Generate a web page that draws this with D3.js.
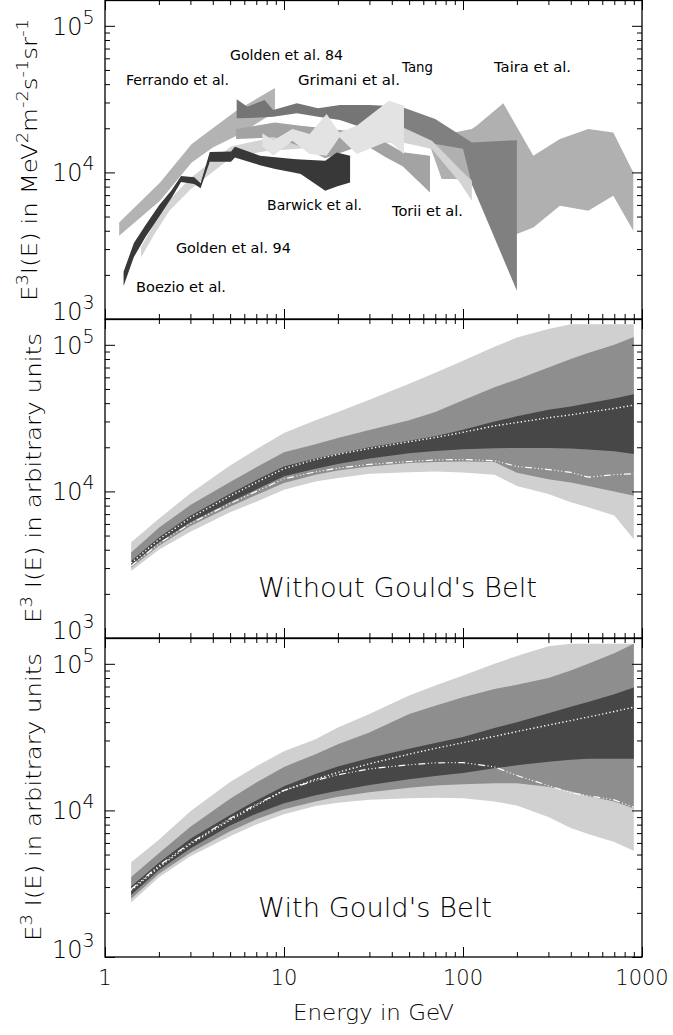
<!DOCTYPE html>
<html><head><meta charset="utf-8">
<script src="https://cdn.jsdelivr.net/npm/d3@7"></script>
<style>body{margin:0;background:#fff} svg{display:block} text{font-family:'DejaVu Sans',sans-serif;}</style>
</head><body><svg id="c" width="673" height="1035"></svg>
<script>
// ---------------- DATA ----------------
// Panel 1: measured electron spectra (E in GeV, band lo/hi of E^3 I(E))
const ferrandoE  = [1.2, 2.03, 3.05, 4.0, 5.44, 8.9];
const ferrandoLo = [3700, 6410, 11700, 14800, 17800, 25700];
const ferrandoHi = [4560, 8550, 15600, 20000, 26400, 37700];

const tairaE  = [65, 76, 112, 119, 168, 200, 247, 348, 501, 691, 894];
const tairaLo = [15500, 9000, 9000, 7000, 4700, 3800, 4213, 5925, 5477, 6934, 4000];
const tairaHi = [16000, 18000, 19780, 20840, 29580, 20400, 13000, 16900, 19780, 18750, 10000];

const tangE  = [38, 46, 70, 100, 112, 200];
const tangLo = [20000, 19500, 15600, 14500, 8300, 1560];
const tangHi = [28500, 27800, 23100, 17500, 16000, 16600];

const golden94E  = [1.59, 1.89, 2.29, 3.02, 4.08, 5.06, 8, 12, 20, 30, 46, 67, 83, 96, 112];
const golden94Lo = [2630, 3800, 5480, 7710, 10270, 12600, 14000, 14500, 15500, 16000, 16000, 14450, 10550, 8550, 6410];
const golden94Hi = [3100, 4500, 6500, 9200, 12300, 15000, 17000, 18000, 19000, 20000, 20300, 16460, 12660, 10500, 8780];

const toriiE  = [5.4, 8.9, 12.4, 17, 24, 28, 37, 46, 65.4];
const toriiLo = [16900, 17300, 15000, 12500, 14500, 15600, 12700, 11000, 7300];
const toriiHi = [19800, 21900, 20800, 20000, 19000, 18000, 16000, 13700, 13000];

const golden84E  = [5.44, 6.25, 7.79, 8.70, 11.8, 15.5, 20.5, 30.1, 38.6];
const golden84Lo = [23380, 23500, 23770, 23990, 25290, 23990, 22790, 19450, 20000];
const golden84Hi = [31540, 28100, 31200, 26660, 29610, 27360, 28840, 28840, 28400];

const grimaniE  = [7.57, 8.7, 11.14, 13.9, 17.3, 20.4, 25.5, 38.6, 46.8];
const grimaniLo = [15000, 13000, 16460, 13350, 13000, 17340, 13350, 16460, 13350];
const grimaniHi = [18500, 16500, 19780, 18280, 25040, 18750, 20840, 30860, 28530];

const boezioE  = [1.27, 1.45, 1.69, 2.01, 2.36, 2.66, 3.15, 3.42, 3.85, 5.06];
const boezioLo = [1680, 2650, 3650, 5000, 6750, 8600, 8330, 7800, 11800, 11840];
const boezioHi = [2100, 3300, 4400, 6000, 7600, 9450, 9250, 8450, 13800, 13900];

const barwickE  = [5.06, 5.32, 7.34, 8.94, 11.3, 12.4, 17.0, 19.7, 23.4];
const barwickLo = [11840, 12660, 11200, 10550, 10000, 9750, 7500, 8000, 8550];
const barwickHi = [13900, 14980, 13000, 12700, 12350, 12250, 12020, 13690, 13000];

const labelText = ["Golden et al. 84", "Ferrando et al.", "Grimani et al.", "Tang", "Taira et al.",
                   "Barwick et al.", "Torii et al.", "Golden et al. 94", "Boezio et al."];
const labelE = [4.99, 1.31, 11.97, 45.6, 149, 8.04, 40.1, 2.49, 1.49];
const labelV = [58440, 39470, 39470, 48410, 48410, 5540, 5042, 2819, 1529];

// Panels 2 and 3: model predictions on a common energy grid
const gridE = [1.4, 2, 3, 5, 7, 10, 15, 20, 30, 50, 70, 100, 150, 200, 300, 400, 500, 700, 900];

const noGB_lightHi = [4500, 6500, 9700, 15000, 19400, 25000, 30600, 34800, 42200, 54200, 64600, 78000, 97000, 112000, 128000, 138000, 138000, 138000, 138000];
const noGB_midHi   = [3830, 5640, 8070, 11600, 14600, 18500, 21000, 23100, 26200, 30600, 34800, 41800, 51400, 58000, 70000, 80000, 88000, 100000, 113000];
const noGB_darkHi  = [3350, 4850, 6820, 9640, 11950, 14800, 16800, 18100, 20000, 22200, 23800, 26300, 30000, 32500, 36000, 38000, 40000, 43000, 46000];
const noGB_darkLo  = [3150, 4480, 6170, 8470, 10300, 12700, 14300, 15400, 16800, 18200, 18900, 19400, 19700, 19800, 19800, 19600, 19300, 18800, 18000];
const noGB_midLo   = [3020, 4260, 5800, 7860, 9460, 11400, 13000, 13900, 14800, 15600, 15900, 16000, 15900, 13400, 12100, 11500, 10900, 10000, 9350];
const noGB_lightLo = [2870, 4000, 5300, 7200, 8500, 10270, 11690, 12320, 13180, 13530, 13650, 13450, 13000, 10900, 9600, 8430, 7800, 6840, 4720];
const noGB_dotted  = [3250, 4700, 6600, 9300, 11500, 14300, 16500, 17900, 19600, 21800, 23300, 25300, 28000, 29500, 31800, 33300, 34700, 36800, 38800];
const noGB_dashdot = [3100, 4400, 6040, 8260, 10000, 12200, 13600, 14400, 15300, 16000, 16400, 16500, 16200, 14800, 14100, 13500, 12500, 13000, 13200];

const gb_lightHi = [4430, 6300, 9870, 15600, 20000, 25300, 30600, 36800, 45400, 60700, 71000, 83200, 100000, 113000, 132000, 137000, 137000, 137000, 137000];
const gb_midHi   = [3515, 5100, 7750, 12000, 15500, 19800, 24200, 28300, 34000, 45400, 51800, 59100, 67400, 72000, 80000, 90000, 100000, 118000, 137000];
const gb_darkHi  = [3030, 4400, 6400, 9300, 11700, 14600, 17700, 19900, 22800, 26300, 28800, 31700, 36500, 40000, 46000, 51000, 55000, 62000, 69000];
const gb_darkLo  = [2650, 3900, 5500, 7900, 9500, 11200, 12700, 13600, 14900, 16300, 17200, 18000, 19400, 20300, 21500, 22200, 22500, 22500, 22500];
const gb_midLo   = [2500, 3700, 5150, 7200, 8700, 10200, 11500, 12400, 13300, 14300, 14800, 15100, 15300, 15300, 14500, 13500, 12500, 11500, 10300];
const gb_lightLo = [2350, 3500, 4860, 6670, 8020, 9400, 10700, 11300, 11800, 12100, 12200, 12100, 11500, 10800, 9000, 7600, 6900, 6100, 5300];
const gb_dotted  = [2850, 4100, 5900, 8600, 10800, 13700, 16300, 18200, 20800, 24200, 26500, 29000, 32000, 34500, 38200, 41000, 43300, 47300, 50600];
const gb_dashdot = [2900, 4200, 6000, 8800, 11000, 13700, 16000, 17500, 19200, 20500, 21100, 21200, 19800, 17300, 14800, 13200, 12600, 11800, 10500];

const panelNotes = ["Without Gould's Belt", "With Gould's Belt"];
const noteE = [7.16, 7.16];
const noteV = [1905, 1875];

const xTickLabels = ["1", "10", "100", "1000"];
const yTickValues = [1e3, 1e4, 1e5];
const yTickExps = ["3", "4", "5"];

// ---------------- LAYOUT ----------------
const W = 673, L = 105, R = 642, H = 319;
const tops = [0, 319, 638];
const svg = d3.select("#c");
const x = d3.scaleLog().domain([1, 1000]).range([L, R]);
const yScales = tops.map(t => d3.scaleLog().domain([1e3, 1.5e5]).range([t + H, t]));

const zip = (E, lo, hi) => E.map((e, i) => ({E: e, lo: lo[i], hi: hi[i]}));

const defs = svg.append("defs");
tops.forEach((t, i) => {
  defs.append("clipPath").attr("id", "clip" + i)
    .append("rect").attr("x", L).attr("y", t).attr("width", R - L).attr("height", H);
});

function areaFor(y) {
  return d3.area().x(d => x(d.E)).y0(d => y(d.lo)).y1(d => y(d.hi)).curve(d3.curveLinear);
}

// ---------- Panel 1 ----------
{
  const y = yScales[0];
  const g = svg.append("g").attr("clip-path", "url(#clip0)");
  const bands = [
    {d: zip(ferrandoE, ferrandoLo, ferrandoHi), c: "#b3b3b3"},
    {d: zip(tairaE, tairaLo, tairaHi), c: "#b0b0b0"},
    {d: zip(tangE, tangLo, tangHi), c: "#808080"},
    {d: zip(golden94E, golden94Lo, golden94Hi), c: "#d4d4d4"},
    {d: zip(toriiE, toriiLo, toriiHi), c: "#a3a3a3"},
    {d: zip(golden84E, golden84Lo, golden84Hi), c: "#757575"},
    {d: zip(grimaniE, grimaniLo, grimaniHi), c: "#e3e3e3"},
    {d: zip(boezioE, boezioLo, boezioHi), c: "#383838"},
    {d: zip(barwickE, barwickLo, barwickHi), c: "#383838"}
  ];
  const ar = areaFor(y);
  g.selectAll("path.band").data(bands).join("path")
    .attr("d", b => ar(b.d)).attr("fill", b => b.c).attr("stroke", "none");

  const labelWidths = [113, 103, 102, 31, 77, 95, 71, 115, 90];
  svg.append("g").selectAll("text").data(labelText).join("text")
    .attr("x", (t, i) => x(labelE[i])).attr("y", (t, i) => y(labelV[i]))
    .attr("textLength", (t, i) => labelWidths[i]).attr("lengthAdjust", "spacingAndGlyphs")
    .style("font-size", "14px").attr("fill", "#000").text(t => t);
}

// ---------- Panels 2 & 3 ----------
const modelSets = [
  {lh: noGB_lightHi, mh: noGB_midHi, dh: noGB_darkHi, dl: noGB_darkLo, ml: noGB_midLo, ll: noGB_lightLo, dot: noGB_dotted, dd: noGB_dashdot},
  {lh: gb_lightHi, mh: gb_midHi, dh: gb_darkHi, dl: gb_darkLo, ml: gb_midLo, ll: gb_lightLo, dot: gb_dotted, dd: gb_dashdot}
];
modelSets.forEach((m, k) => {
  const pi = k + 1, y = yScales[pi];
  const g = svg.append("g").attr("clip-path", `url(#clip${pi})`);
  const ar = areaFor(y);
  g.append("path").attr("d", ar(zip(gridE, m.ll, m.lh))).attr("fill", "#d0d0d0");
  g.append("path").attr("d", ar(zip(gridE, m.ml, m.mh))).attr("fill", "#8e8e8e");
  g.append("path").attr("d", ar(zip(gridE, m.dl, m.dh))).attr("fill", "#474747");
  const ln = d3.line().x(d => x(d.E)).y(d => y(d.v));
  g.append("path").attr("d", ln(gridE.map((e, i) => ({E: e, v: m.dot[i]}))))
    .attr("fill", "none").attr("stroke", "#fff").attr("stroke-width", 1.4).attr("stroke-dasharray", "1.3 2.4");
  g.append("path").attr("d", ln(gridE.map((e, i) => ({E: e, v: m.dd[i]}))))
    .attr("fill", "none").attr("stroke", "#fff").attr("stroke-width", 1.2)
    .attr("stroke-dasharray", "7 2.5 1 2.5 1 2.5 1 2.5");
  svg.append("text").attr("x", x(noteE[k])).attr("y", y(noteV[k]))
    .attr("textLength", k === 0 ? 279 : 234).attr("lengthAdjust", "spacingAndGlyphs")
    .style("font-size", "26px").style("font-weight", 200).text(panelNotes[k]);
});

// ---------- Axes, ticks, frames ----------
const xMajor = [1, 10, 100, 1000];
const xMinor = [];
[1, 10, 100].forEach(d => { for (let j = 2; j <= 9; j++) xMinor.push(d * j); });
const yMinor = [];
[1e3, 1e4].forEach(d => { for (let j = 2; j <= 9; j++) yMinor.push(d * j); });

function strip(sel) { sel.select(".domain").remove(); sel.selectAll("text").remove(); sel.selectAll("line").attr("stroke", "#000").attr("stroke-width", 1); }

tops.forEach((t, i) => {
  const y = yScales[i];
  const ax = svg.append("g");
  [[xMajor, 10], [xMinor, 5]].forEach(([vals, s]) => {
    ax.append("g").attr("transform", `translate(0,${t + H})`).call(d3.axisBottom(x).tickValues(vals).tickSize(-s)).call(strip);
    ax.append("g").attr("transform", `translate(0,${t})`).call(d3.axisTop(x).tickValues(vals).tickSize(-s)).call(strip);
  });
  [[yTickValues, 10], [yMinor, 5]].forEach(([vals, s]) => {
    ax.append("g").attr("transform", `translate(${L},0)`).call(d3.axisLeft(y).tickValues(vals).tickSize(-s)).call(strip);
    ax.append("g").attr("transform", `translate(${R},0)`).call(d3.axisRight(y).tickValues(vals).tickSize(-s)).call(strip);
  });
  svg.append("rect").attr("x", L).attr("y", t + 0.5).attr("width", R - L).attr("height", H - 0.5)
    .attr("fill", "none").attr("stroke", "#000").attr("stroke-width", 1.3);

  // y tick labels 10^n
  yTickValues.forEach((v, j) => {
    const tx = svg.append("text").attr("x", 52).attr("y", y(v) + 9 - (j === 0 ? 8 : 0))
      .style("font-size", "24px").style("font-weight", 200);
    tx.append("tspan").text("10");
    tx.append("tspan").attr("dy", -11).style("font-size", "19px").text(yTickExps[j]);
  });
});

// x tick labels
svg.append("g").selectAll("text").data(xMajor).join("text")
  .attr("x", d => x(d)).attr("y", 985).attr("text-anchor", "middle")
  .style("font-size", "21px").style("font-weight", 200).text((d, i) => xTickLabels[i]);
svg.append("text").attr("x", (L + R) / 2).attr("y", 1020).attr("text-anchor", "middle")
  .attr("textLength", 161).attr("lengthAdjust", "spacingAndGlyphs")
  .style("font-size", "22px").style("font-weight", 200).text("Energy in GeV");

// y axis titles
function rotTitle(cx, cy, parts, len) {
  const t = svg.append("text").attr("transform", `translate(${cx},${cy}) rotate(-90)`)
    .attr("text-anchor", "middle").attr("textLength", len).attr("lengthAdjust", "spacingAndGlyphs")
    .style("font-size", "22px").style("font-weight", 200);
  let up = false;
  parts.forEach(([s, sup]) => {
    const ts = t.append("tspan").text(s);
    if (sup && !up) { ts.attr("dy", -9).style("font-size", "16px"); up = true; }
    else if (sup) { ts.style("font-size", "16px"); }
    else if (!sup && up) { ts.attr("dy", 9); up = false; }
  });
}
rotTitle(37, 160, [["E", 0], ["3", 1], ["I(E) in MeV", 0], ["2", 1], ["m", 0], ["-2", 1], ["s", 0], ["-1", 1], ["sr", 0], ["-1", 1]], 282);
rotTitle(41, 478, [["E", 0], ["3", 1], [" I(E) in arbitrary units", 0]], 290);
rotTitle(41, 797, [["E", 0], ["3", 1], [" I(E) in arbitrary units", 0]], 288);
</script></body></html>
